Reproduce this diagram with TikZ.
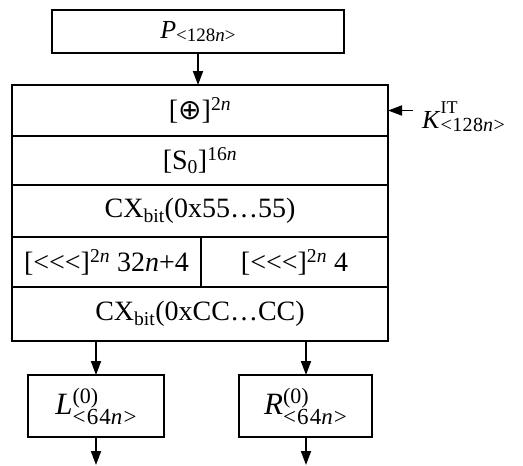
\documentclass[tikz,border=0pt]{standalone}
\usepackage{fontspec}
\setmainfont{Liberation Serif}
\newfontfamily\symfont{DejaVu Sans}
\usetikzlibrary{positioning, arrows.meta}

% hoch- und tiefgestellte Indizes
\newcommand{\subtxt}[4]{\raisebox{-#1}{\fontsize{#2}{#2}\selectfont\addfontfeature{LetterSpace=#3}#4}}
\newcommand{\suptxt}[3]{\raisebox{#1}{\fontsize{#2}{#2}\selectfont #3}}

\begin{document}
\begin{tikzpicture}[x=1pt, y=1pt,
  node distance=0pt,
  blk/.style={rectangle, draw, line width=1.8pt, inner sep=0pt, outer sep=0pt,
              font=\fontsize{28}{30}\selectfont},
  arr/.style={-{Triangle[length=14pt, width=10pt]}, line width=1.8pt},
]
\useasboundingbox (0,0) rectangle (523,-466);
% Eingangsblock
\node[blk, minimum width=292pt, minimum height=43pt] (plain) at (198,-31.5)
  {{\fontsize{26}{26}\selectfont\textit{P}}\subtxt{3pt}{19}{0}{<128\textit{n}>}};
% Stapel der Runde (von oben nach unten)
\node[blk, minimum width=376pt, minimum height=51pt] (xor) at (200,-110.5)
  {[{\symfont ⊕}]\textsuperscript{2\textit{n}}};
\node[blk, minimum width=376pt, minimum height=49pt, below=of xor] (sbox)
  {[S\textsubscript{0}]\textsuperscript{16\textit{n}}};
\node[blk, minimum width=376pt, minimum height=52pt, below=of sbox] (cxa)
  {CX\textsubscript{bit}(0x55\ldots55)};
\node[blk, minimum width=189pt, minimum height=50pt, below right=of cxa.south west] (rotl)
  {[<{}<{}<]\textsuperscript{2\textit{n}} 32\textit{n}+4};
\node[blk, minimum width=187pt, minimum height=50pt, right=of rotl] (rotr)
  {[<{}<{}<]\textsuperscript{2\textit{n}} 4};
\node[blk, minimum width=376pt, minimum height=54pt, below right=of rotl.south west] (cxb)
  {CX\textsubscript{bit}(0xCC\ldots CC)};
% Ausgangshaelften
\node[blk, minimum width=136pt, minimum height=62pt] (left) at (96,-406)
  {{\fontsize{31}{32}\selectfont\textit{L}}\rlap{\suptxt{11pt}{22}{(0)}}\subtxt{10pt}{23}{5}{<64\textit{n}>}};
\node[blk, minimum width=133pt, minimum height=62pt] (right) at (305.5,-406)
  {{\fontsize{31}{32}\selectfont\textit{R}}\rlap{\suptxt{11pt}{22}{(0)}}\subtxt{10pt}{23}{5}{<64\textit{n}>}};
% Rundenschluessel
\node[font=\fontsize{26}{26}\selectfont, inner xsep=9pt, inner ysep=0pt, anchor=base west]
  (key) at (413,-128) {\textit{K}\rlap{\suptxt{15pt}{18}{IT}}\subtxt{3pt}{20}{2}{<128\textit{n}>}};
\coordinate (lout) at (96,-465);
\coordinate (rout) at (306,-465);
% Pfeile
\draw[arr] (plain.south) -- (xor.north -| plain.south);
\draw[arr] (xor.east -| key.west) -- (xor.east);
\draw[arr] (cxb.south -| left.north) -- (left.north);
\draw[arr] (cxb.south -| rout) -- (rout |- right.north);
\draw[arr] (left.south) -- (lout);
\draw[arr] (right.south -| rout) -- (rout);
\end{tikzpicture}
\end{document}
